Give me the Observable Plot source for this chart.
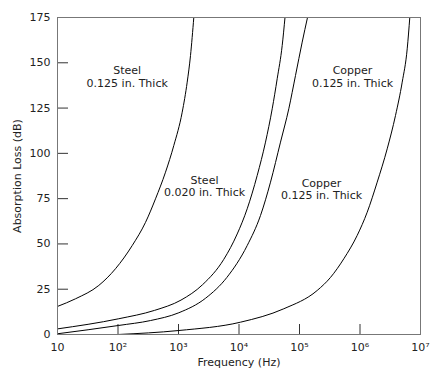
<!DOCTYPE html>
<html>
<head>
<meta charset="utf-8">
<script src="https://cdn.jsdelivr.net/npm/d3@7"></script>
<script src="https://cdn.jsdelivr.net/npm/@observablehq/plot@0.6"></script>
<style>
  html, body { margin: 0; padding: 0; background: #fff; }
  svg { display: block; }
</style>
</head>
<body>
<div id="chart"></div>
<script>
// Frequency (Hz) and absorption loss (dB)
const steel125Freq = [10, 19.8, 48.2, 90.9, 171.7, 284.8, 416.8, 609.9, 836, 1151, 1392, 1579, 1790];
const steel125Loss = [15.5, 19.7, 27.1, 36.3, 49.1, 61.9, 74.9, 89.6, 104.3, 122.7, 139.3, 154, 175];

const steel020Freq = [10, 103, 400, 1100, 2500, 5609, 9338, 13660, 19990, 27420, 35390, 42800, 51760, 57580];
const steel020Loss = [3.1, 8.7, 13.3, 19, 27.5, 41.5, 55.5, 69.4, 87.8, 106.2, 124.6, 141.2, 159.5, 175];

const copperAFreq = [10, 103, 344, 1012, 2795, 6300, 13660, 22670, 33170, 48530, 66560, 85900, 110800, 135600];
const copperALoss = [0.4, 5.0, 7.7, 12, 20, 31.5, 49.1, 65.7, 84.1, 106.2, 124.6, 143, 161.4, 175];

const copperBFreq = [100, 1012, 10600, 55000, 196000, 325300, 539900, 898700, 1315000, 1924000, 2816000, 3862000, 4984000, 6029000, 6653000];
const copperBLoss = [0, 2.2, 6.8, 14.2, 24.3, 31.5, 41.8, 54.7, 67.5, 84.1, 102.5, 120.9, 139.3, 157.7, 175];

const labelText = ["Steel\n0.125 in. Thick", "Steel\n0.020 in. Thick", "Copper\n0.125 in. Thick", "Copper\n0.125 in. Thick"];
const labelFreq = [142, 2690, 751000, 231000];
const labelLoss = [142.4, 82, 142.4, 80.3];

const xTicks = [10, 100, 1000, 10000, 100000, 1000000, 10000000];
const xTickLabels = ["10", "10²", "10³", "10⁴", "10⁵", "10⁶", "10⁷"];
const yTicks = [0, 25, 50, 75, 100, 125, 150, 175];

const toPts = (fs, ls, name) => fs.map((f, i) => ({f, l: ls[i], name}));
const curves = [
  toPts(steel125Freq, steel125Loss, "steel125"),
  toPts(steel020Freq, steel020Loss, "steel020"),
  toPts(copperAFreq, copperALoss, "copperA"),
  toPts(copperBFreq, copperBLoss, "copperB")
].flat();
const labels = labelText.map((t, i) => ({t, f: labelFreq[i], l: labelLoss[i]}));

const chart = Plot.plot({
  width: 441,
  height: 379,
  marginLeft: 57,
  marginRight: 21,
  marginTop: 17,
  marginBottom: 45,
  style: {fontFamily: "'DejaVu Sans', Verdana, sans-serif", fontSize: "11px", color: "#222", background: "#fff"},
  x: {type: "log", domain: [10, 1e7]},
  y: {domain: [0, 175]},
  marks: [
    Plot.axisX(xTicks, {
      tickSize: -10, tickPadding: 19,
      tickFormat: (d) => xTickLabels[xTicks.indexOf(d)],
      label: "Frequency (Hz)", labelAnchor: "center", labelArrow: "none", labelOffset: 31,
      stroke: "#333", fontSize: 11
    }),
    Plot.axisY(yTicks, {
      tickSize: -11, tickPadding: 18,
      label: "Absorption Loss (dB)", labelAnchor: "center", labelArrow: "none", labelOffset: 44,
      stroke: "#333", fontSize: 11
    }),
    Plot.line(curves, {x: "f", y: "l", z: "name", curve: "monotone-x", stroke: "#000", strokeWidth: 1}),
    Plot.text(labels, {x: "f", y: "l", text: "t", fill: "#222", fontSize: 11, lineHeight: 1.15}),
    Plot.frame({stroke: "#777"})
  ]
});
document.getElementById("chart").appendChild(chart);
</script>
</body>
</html>
